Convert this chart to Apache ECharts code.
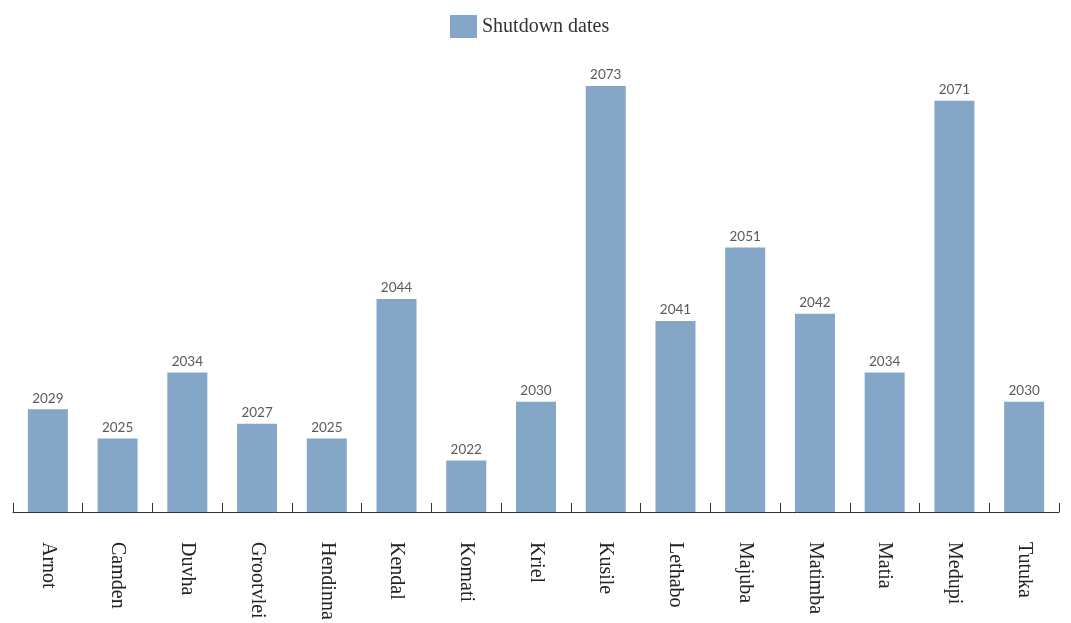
<!DOCTYPE html>
<html>
<head>
<meta charset="utf-8">
<script src="https://cdn.jsdelivr.net/npm/echarts@6/dist/echarts.min.js"></script>
<style>html,body{margin:0;padding:0;background:#fff}#c{width:1071px;height:623px}</style>
</head>
<body>
<div id="c"></div>
<script>
const categories = ["Arnot","Camden","Duvha","Grootvlei","Hendinna","Kendal","Komati","Kriel","Kusile","Lethabo","Majuba","Matimba","Matia","Medupi","Tutuka"];
const shutdownDates = [2029,2025,2034,2027,2025,2044,2022,2030,2073,2041,2051,2042,2034,2071,2030];
const seriesName = "Shutdown dates";

const chart = echarts.init(document.getElementById('c'));
chart.setOption({
  animation: false,
  backgroundColor: '#fff',
  legend: {
    top: 15,
    left: 450,
    padding: 0,
    icon: 'rect',
    itemWidth: 27,
    itemHeight: 23,
    itemGap: 10,
    textStyle: { fontFamily: 'Liberation Serif', fontSize: 20, color: '#333' },
    data: [seriesName]
  },
  grid: { left: 13, right: 12, top: 34.6, bottom: 111 },
  xAxis: {
    type: 'category',
    data: categories,
    axisLine: { lineStyle: { color: '#333', width: 1 } },
    axisTick: { show: true, inside: true, length: 9, lineStyle: { color: '#333' } },
    axisLabel: { rotate: -90, margin: 30, fontFamily: 'Liberation Serif', fontSize: 20, color: '#222', interval: 0 }
  },
  yAxis: {
    type: 'value',
    min: 2015,
    max: 2080,
    show: false,
    splitLine: { show: false }
  },
  series: [{
    name: seriesName,
    type: 'bar',
    data: shutdownDates,
    barWidth: 40,
    itemStyle: { color: '#84a6c7' },
    label: { show: true, position: 'top', distance: 4, fontFamily: 'Lato', fontSize: 13.5, color: '#5a5a5a' }
  }]
});
</script>
</body>
</html>
